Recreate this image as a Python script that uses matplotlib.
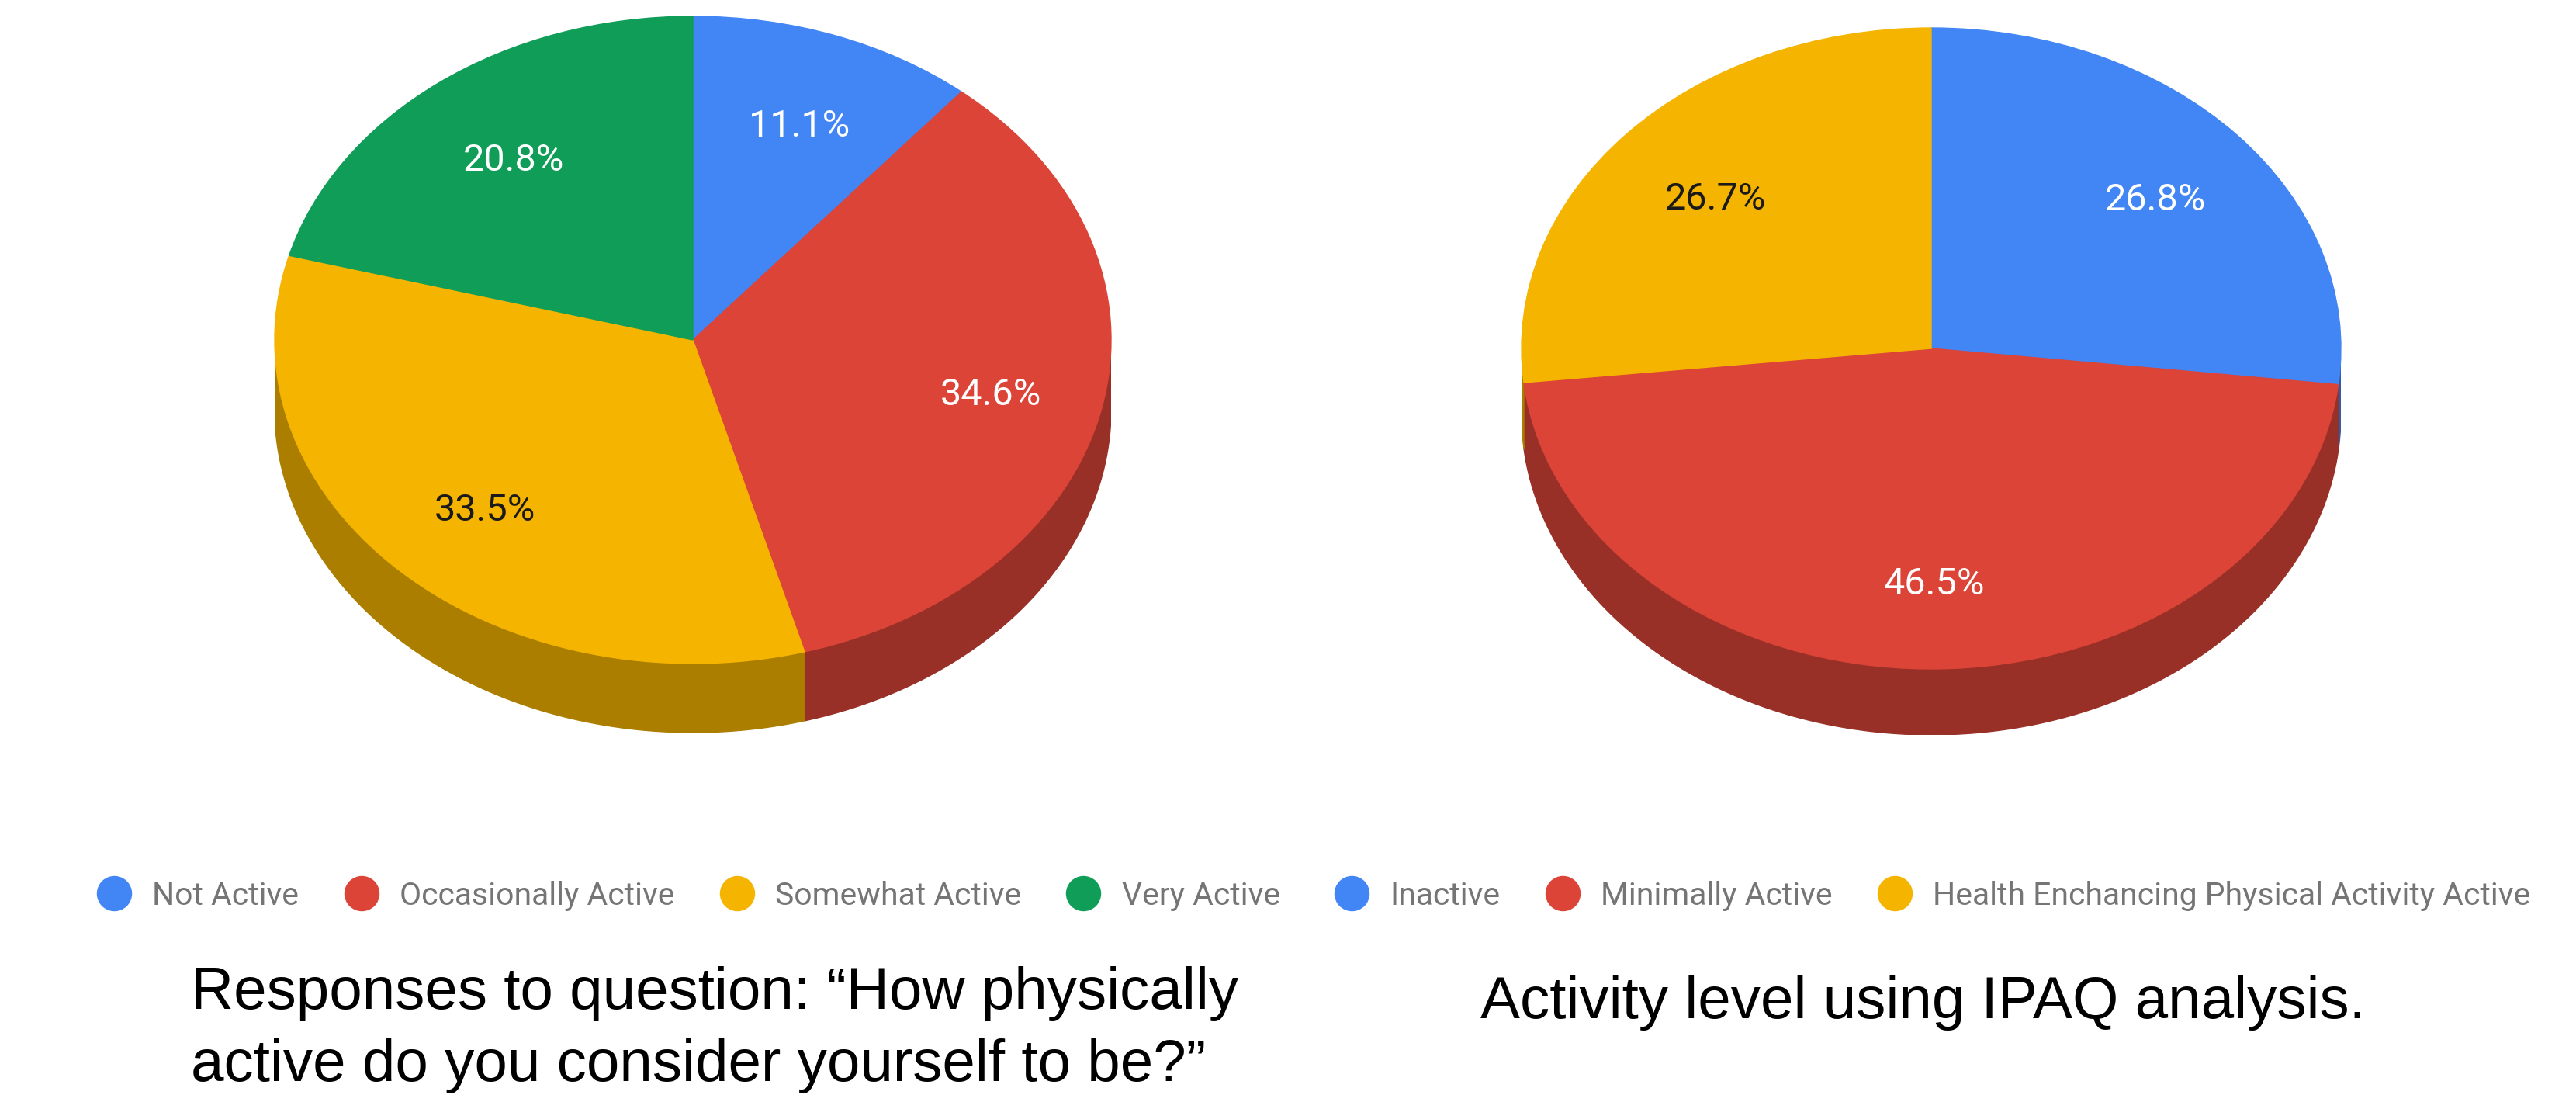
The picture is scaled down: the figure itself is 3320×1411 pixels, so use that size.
import numpy as np
import matplotlib
matplotlib.use("Agg")
import matplotlib.pyplot as plt
from matplotlib.lines import Line2D
from matplotlib.patches import Polygon
from matplotlib.colors import to_rgb

# ---------------- data ----------------
q_categories = ["Not Active", "Occasionally Active", "Somewhat Active", "Very Active"]
q_values = [11.1, 34.6, 33.5, 20.8]

ipaq_categories = ["Inactive", "Minimally Active",
                   "Health Enchancing Physical Activity Active"]
ipaq_values = [26.8, 46.5, 26.7]

caption_left = ["Responses to question: \u201cHow physically",
                "active do you consider yourself to be?\u201d"]
caption_right = "Activity level using IPAQ analysis."

# ---------------- styles ----------------
BLUE, RED, YELLOW, GREEN = "#4285F4", "#DB4437", "#F4B400", "#0F9D58"
q_colors = [BLUE, RED, YELLOW, GREEN]
ipaq_colors = [BLUE, RED, YELLOW]
q_label_colors = ["white", "white", "#1a1a1a", "white"]
ipaq_label_colors = ["white", "white", "#1a1a1a"]

W, H = 3320, 1411
fig = plt.figure(figsize=(W / 100, H / 100), dpi=100)
fig.patch.set_facecolor("white")


def shade(c, f=0.7):
    r, g, b = to_rgb(c)
    return (r * f, g * f, b * f)


def pie3d(values, colors, label_colors, cx, cy, rx, ry, depth):
    d = depth / ry
    ax = fig.add_axes([(cx - rx) / W, 1 - (cy + ry + depth) / H,
                       2 * rx / W, (2 * ry + depth) / H])
    wedges, texts, autotexts = ax.pie(
        values, colors=colors, startangle=90, counterclock=False,
        autopct="%.1f%%", pctdistance=0.72, radius=1,
        textprops=dict(fontfamily="Roboto", fontsize=35))
    for w, c in zip(wedges, colors):
        w.set_edgecolor(c)
        w.set_linewidth(1)
    for t, c in zip(autotexts, label_colors):
        t.set_color(c)
        x, y = t.get_position()
        t.set_position((x + 5.0 / rx, y - 7.0 / ry))
    total = float(sum(values))
    bounds = np.concatenate([[0.0], np.cumsum(values)]) / total * 360.0
    for i, c in enumerate(colors):
        lo = max(bounds[i], 90.0)
        hi = min(bounds[i + 1], 270.0)
        if hi <= lo:
            continue
        th = np.radians(np.linspace(lo, hi, 300))
        xs, ys = np.sin(th), np.cos(th)
        pts = np.concatenate([np.column_stack([xs, ys]),
                              np.column_stack([xs[::-1], ys[::-1] - d])])
        sc = shade(c)
        ax.add_patch(Polygon(pts, closed=True, facecolor=sc, edgecolor=sc,
                             lw=1, zorder=0))
    ax.set_aspect("auto")
    ax.set_xlim(-1, 1)
    ax.set_ylim(-1 - d, 1)
    ax.axis("off")
    return ax


pie3d(q_values, q_colors, q_label_colors, cx=893, cy=438, rx=539, ry=417, depth=89)
pie3d(ipaq_values, ipaq_colors, ipaq_label_colors, cx=2489, cy=449, rx=528, ry=413, depth=85)


def add_legend(cats, colors, x_left, y_center):
    handles = [Line2D([], [], marker="o", linestyle="none", markersize=31.7,
                      markerfacecolor=c, markeredgecolor=c) for c in colors]
    fig.legend(handles, cats, loc="center left",
               bbox_to_anchor=(x_left / W, 1 - y_center / H),
               ncol=len(cats), frameon=False, borderpad=0, borderaxespad=0,
               handlelength=1.09, handletextpad=0.66, columnspacing=1.42,
               prop=dict(family="Roboto", size=29.4), labelcolor="#757575")


add_legend(q_categories, q_colors, 125, 1154)
add_legend(ipaq_categories, ipaq_colors, 1720, 1154)

cap_font = dict(family="Liberation Sans", size=55, color="black")
fig.text(246 / W, 1 - 1300 / H, caption_left[0], va="baseline", ha="left", **cap_font)
fig.text(246 / W, 1 - 1393 / H, caption_left[1], va="baseline", ha="left", **cap_font)
fig.text(1908 / W, 1 - 1312 / H, caption_right, va="baseline", ha="left", **cap_font)

fig.savefig("out.png", dpi=100, facecolor="white")
